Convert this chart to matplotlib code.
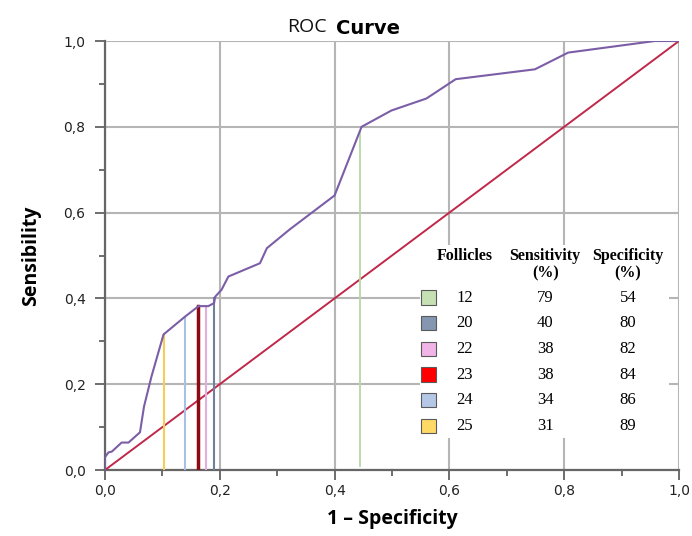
import matplotlib
matplotlib.use("Agg")
import matplotlib.pyplot as plt
from matplotlib.patches import Rectangle
from matplotlib.ticker import MultipleLocator, FuncFormatter

# ROC curve
roc_fpr = [0.0, 0.0, 0.006, 0.012, 0.029, 0.041, 0.061, 0.068, 0.081, 0.102,
           0.139, 0.163, 0.18, 0.19, 0.192, 0.203, 0.215, 0.27, 0.282, 0.322,
           0.40, 0.447, 0.499, 0.56, 0.611, 0.749, 0.807, 0.958, 1.0]
roc_tpr = [0.0, 0.03, 0.041, 0.043, 0.064, 0.064, 0.088, 0.148, 0.218, 0.316,
           0.357, 0.382, 0.382, 0.389, 0.404, 0.42, 0.451, 0.482, 0.517, 0.561,
           0.64, 0.80, 0.838, 0.866, 0.911, 0.934, 0.973, 1.0, 1.0]

# cut-off table
follicles = ["12", "20", "22", "23", "24", "25"]
sensitivity = ["79", "40", "38", "38", "34", "31"]
specificity = ["54", "80", "82", "84", "86", "89"]

# cut-off markers (x position and height on the curve)
cut_x = [0.445, 0.19, 0.176, 0.162, 0.14, 0.103]
cut_top = [0.79, 0.40, 0.382, 0.382, 0.357, 0.316]
cut_bottom = [0.01, 0.0, 0.0, 0.0, 0.0, 0.0]

line_colors = ["#b5d9a5", "#6f7f9c", "#e0b0dc", "#8b0a14", "#a9c1e0", "#f5cf55"]
line_widths = [1.3, 1.5, 1.5, 2.5, 1.5, 1.5]
box_colors = ["#c6e0b4", "#8496b0", "#f0b4e6", "#ff0000", "#b4c7e7", "#ffd966"]

fig = plt.figure(figsize=(6.92, 5.36), dpi=100)
ax = fig.add_axes([0.1517, 0.1231, 0.8295, 0.8004])

ax.set_xlim(0, 1)
ax.set_ylim(0, 1)
ax.xaxis.set_major_locator(MultipleLocator(0.2))
ax.yaxis.set_major_locator(MultipleLocator(0.2))
ax.xaxis.set_minor_locator(MultipleLocator(0.1))
ax.yaxis.set_minor_locator(MultipleLocator(0.1))
comma = FuncFormatter(lambda v, p: f"{v:.1f}".replace(".", ","))
ax.xaxis.set_major_formatter(comma)
ax.yaxis.set_major_formatter(comma)
ax.tick_params(which="both", direction="out", color="#555555", labelsize=10,
               labelcolor="#222222")
ax.tick_params(which="major", length=7, width=1.2)
ax.tick_params(which="minor", length=4, width=1.2)
ax.tick_params(axis="y", which="major", pad=7)
ax.tick_params(axis="x", which="major", pad=3)

ax.grid(True, which="major", color="#b5b5b5", linewidth=1.5)
ax.set_axisbelow(True)
for side in ["top", "right"]:
    ax.spines[side].set_visible(False)
for side in ["left", "bottom"]:
    ax.spines[side].set_color("#666666")
    ax.spines[side].set_linewidth(1.6)

# white panel behind the table
ax.add_patch(Rectangle((0.549, 0.075), 0.434, 0.449, transform=ax.transAxes,
                       facecolor="white", edgecolor="none", zorder=1.5))

ax.plot([0, 1], [0, 1], color="#c0284a", linewidth=1.4, zorder=3)
for x, y0, y1, c, w in zip(cut_x, cut_bottom, cut_top, line_colors, line_widths):
    ax.plot([x, x], [y0, y1], color=c, linewidth=w, zorder=3)
ax.plot(roc_fpr, roc_tpr, color="#7b5ea7", linewidth=1.5, zorder=4)

# table
serif = "Liberation Serif"
hx = [0.627, 0.767, 0.911]
ax.text(hx[0], 0.499, "Follicles", transform=ax.transAxes, ha="center",
        va="center", family=serif, weight="bold", fontsize=11.5)
ax.text(hx[1], 0.478, "Sensitivity\n(%)", transform=ax.transAxes, ha="center",
        va="center", family=serif, weight="bold", fontsize=11.5, linespacing=1.1)
ax.text(hx[2], 0.478, "Specificity\n(%)", transform=ax.transAxes, ha="center",
        va="center", family=serif, weight="bold", fontsize=11.5, linespacing=1.1)
for i, (f, se, sp, bc) in enumerate(zip(follicles, sensitivity, specificity, box_colors)):
    y = 0.402 - i * 0.0598
    ax.add_patch(Rectangle((0.550, y - 0.0165), 0.026, 0.033, transform=ax.transAxes,
                           facecolor=bc, edgecolor="#5a5a5a", linewidth=0.8, zorder=5))
    for xx, s in zip(hx, [f, se, sp]):
        ax.text(xx, y, s, transform=ax.transAxes, ha="center", va="center",
                family=serif, fontsize=12)

# titles
fig.text(0.472, 0.949, "ROC", ha="right", va="center", family="Open Sans",
         fontsize=14, color="#111111")
fig.text(0.486, 0.947, "Curve", ha="left", va="center", family="DejaVu Sans",
         weight="bold", fontsize=14)
ax.set_xlabel("1 \u2013 Specificity", family="Open Sans", weight="bold",
              fontsize=14, labelpad=8)
ax.set_ylabel("Sensibility", family="Open Sans", weight="bold",
              fontsize=14, labelpad=16)

fig.savefig("out.png", dpi=100)
